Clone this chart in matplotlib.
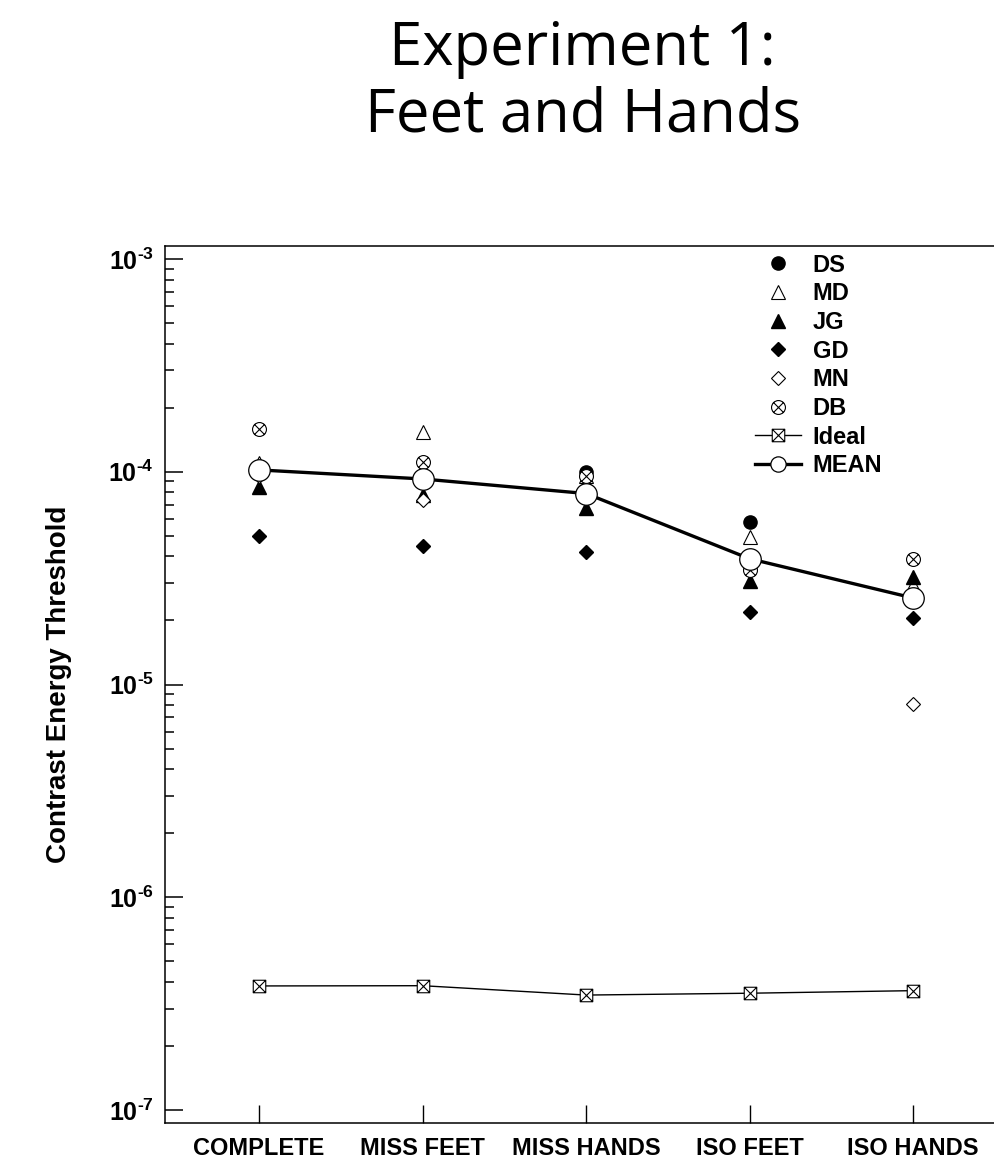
import matplotlib
matplotlib.use("Agg")
import matplotlib.pyplot as plt
import numpy as np
from matplotlib.path import Path
from matplotlib.ticker import FixedLocator, NullFormatter

plt.rcParams['font.family'] = ['Liberation Sans', 'DejaVu Sans']
plt.rcParams['font.weight'] = 'bold'
plt.rcParams['mathtext.fontset'] = 'custom'
plt.rcParams['mathtext.rm'] = 'Liberation Sans:bold'
plt.rcParams['mathtext.it'] = 'Liberation Sans:bold'
plt.rcParams['mathtext.bf'] = 'Liberation Sans:bold'

# data
conditions = ['COMPLETE', 'MISS FEET', 'MISS HANDS', 'ISO FEET', 'ISO HANDS']
ds = [1.0e-4, 9.2e-5, 1.0e-4, 5.8e-5, 2.5e-5]
md = [1.1e-4, 1.53e-4, 9.5e-5, 4.96e-5, 2.95e-5]
jg = [8.5e-5, 7.8e-5, 6.75e-5, 3.07e-5, 3.2e-5]
gd = [5.0e-5, 4.48e-5, 4.18e-5, 2.2e-5, 2.05e-5]
mn = [9.6e-5, 7.36e-5, 8.5e-5, 3.5e-5, 8.1e-6]
db = [1.59e-4, 1.11e-4, 9.55e-5, 3.45e-5, 3.9e-5]
ideal = [3.83e-7, 3.84e-7, 3.47e-7, 3.54e-7, 3.64e-7]
mean = [1.02e-4, 9.25e-5, 7.9e-5, 3.9e-5, 2.55e-5]
ytick_vals = [1e-7, 1e-6, 1e-5, 1e-4, 1e-3]
ytick_labels = [r'$10^{\text{-}7}$', r'$10^{\text{-}6}$', r'$10^{\text{-}5}$',
                r'$10^{\text{-}4}$', r'$10^{\text{-}3}$']

x = np.arange(len(conditions))

# custom markers: circle with x, square with x
d = 0.7071
circ_x = Path.make_compound_path(
    Path.unit_circle(),
    Path([[-d, -d], [d, d]], [Path.MOVETO, Path.LINETO]),
    Path([[-d, d], [d, -d]], [Path.MOVETO, Path.LINETO]))
sq_x = Path([[-1, -1], [1, -1], [1, 1], [-1, 1], [-1, -1],
             [-1, -1], [1, 1], [-1, 1], [1, -1]],
            [1, 2, 2, 2, 79, 1, 2, 1, 2])

fig = plt.figure(figsize=(9.95, 11.65), dpi=100)
ax = fig.add_axes([165/995, 42/1165, 830/995, 877.3/1165])

ax.plot(x, ds, ls='none', marker='o', ms=9.5, mfc='black', mec='black', label='DS')
ax.plot(x, md, ls='none', marker='^', ms=10, mfc='white', mec='black', mew=0.8, label='MD')
ax.plot(x, jg, ls='none', marker='^', ms=10, mfc='black', mec='black', label='JG')
ax.plot(x, gd, ls='none', marker='D', ms=7.5, mfc='black', mec='black', label='GD')
ax.plot(x, mn, ls='none', marker='D', ms=7.5, mfc='white', mec='black', mew=0.8, label='MN')
ax.plot(x, db, ls='none', marker=circ_x, ms=10, mfc='white', mec='black', mew=0.8, label='DB')
ax.plot(x, ideal, color='black', lw=1.0, marker=sq_x, ms=9, mfc='white', mec='black', mew=0.8, label='Ideal')
ax.plot(x, mean, color='black', lw=2.4, marker='o', ms=15.5, mfc='white', mec='black', mew=0.9, label='MEAN')

ax.set_yscale('log')
ax.set_ylim(10**-7.061, 10**-2.9375)
ax.set_xlim(-0.575, 4.5)

ax.set_yticks(ytick_vals, ytick_labels)
minor = [k * 10.0**e for e in range(-7, -3) for k in range(2, 10)]
ax.yaxis.set_minor_locator(FixedLocator(minor))
ax.yaxis.set_minor_formatter(NullFormatter())
ax.set_xticks(x, conditions)
ax.tick_params(axis='y', which='major', direction='in', length=13, width=1.1, labelsize=18, pad=8)
ax.tick_params(axis='y', which='minor', direction='in', length=6.5, width=1.1)
ax.tick_params(axis='x', which='major', direction='in', length=13, width=1.0, labelsize=17, pad=10)
ax.tick_params(axis='x', which='minor', bottom=False)
for s in ['left', 'top', 'bottom']:
    ax.spines[s].set_linewidth(1.1)
ax.spines['right'].set_visible(False)

ax.text(-0.128, 0.5, 'Contrast Energy Threshold', transform=ax.transAxes,
        rotation=90, ha='center', va='center', fontsize=20, fontweight='bold')

leg = ax.legend(loc='upper left', bbox_to_anchor=(0.711, 0.991), frameon=False,
                prop={'size': 17, 'weight': 'bold'}, handlelength=1.93, handletextpad=0.5,
                labelspacing=0.24, borderpad=0, borderaxespad=0, numpoints=1)
leg.legend_handles[7].set_markersize(11)
leg.legend_handles[6].set_markersize(9)

fig.text(582/995, 1 - 65/1165, 'Experiment 1:', ha='center', va='baseline',
         fontsize=43, family='Open Sans', fontweight='normal')
fig.text(583/995, 1 - 132/1165, 'Feet and Hands', ha='center', va='baseline',
         fontsize=43, family='Open Sans', fontweight='normal')

fig.savefig('out.png', dpi=100)
